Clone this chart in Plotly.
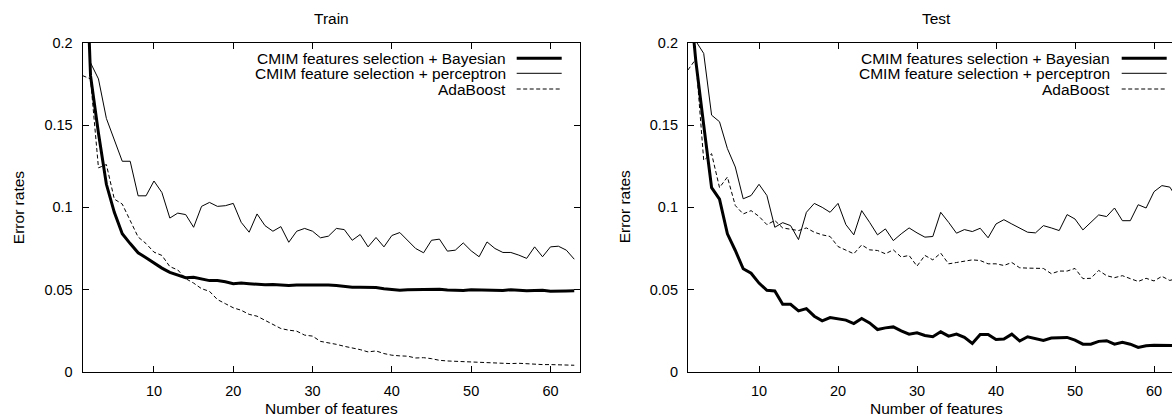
import plotly.graph_objects as go

# ---------------- data ----------------
n_features = list(range(1, 64))

train_bayes = [0.31, 0.18, 0.145, 0.114, 0.097, 0.084, 0.078, 0.0724, 0.0694, 0.0661,
               0.0631, 0.0605, 0.0587, 0.0573, 0.0575, 0.0565, 0.0555, 0.0555, 0.0548, 0.0536,
               0.054, 0.0536, 0.0532, 0.053, 0.0532, 0.0528, 0.0526, 0.0528, 0.0528, 0.053,
               0.0528, 0.0528, 0.0525, 0.052, 0.0515, 0.0515, 0.0515, 0.0513, 0.0505, 0.0502,
               0.0497, 0.0499, 0.05, 0.0498, 0.05, 0.0503, 0.0498, 0.0495, 0.0495, 0.0499,
               0.0497, 0.0495, 0.0497, 0.0495, 0.05, 0.0495, 0.0493, 0.0495, 0.0496, 0.049,
               0.0493, 0.0492, 0.0493]

train_perceptron = [None, 0.1878, 0.178, 0.154, 0.1408, 0.128, 0.128, 0.107, 0.107, 0.116,
                    0.109, 0.0935, 0.0965, 0.0956, 0.0879, 0.1006, 0.103, 0.1006, 0.101, 0.1024,
                    0.0909, 0.0849, 0.096, 0.0889, 0.0855, 0.0883, 0.0788, 0.0855, 0.0872, 0.0855,
                    0.0815, 0.0825, 0.0872, 0.0865, 0.080, 0.0835, 0.076, 0.0817, 0.076, 0.0829,
                    0.0847, 0.0797, 0.075, 0.0724, 0.080, 0.0807, 0.0734, 0.074, 0.0784, 0.0736,
                    0.070, 0.079, 0.075, 0.0726, 0.0726, 0.071, 0.069, 0.076, 0.070, 0.076,
                    0.0764, 0.074, 0.0685]

train_adaboost = [0.18, 0.178, 0.124, 0.126, 0.105, 0.102, 0.092, 0.082, 0.078, 0.0728,
                  0.0708, 0.064, 0.062, 0.0567, 0.054, 0.0506, 0.049, 0.044, 0.0415, 0.039,
                  0.0375, 0.035, 0.0339, 0.0315, 0.029, 0.0264, 0.0254, 0.0248, 0.0224, 0.0218,
                  0.0186, 0.0178, 0.0168, 0.0156, 0.0148, 0.0136, 0.0122, 0.0128, 0.0112, 0.0102,
                  0.0098, 0.0096, 0.0085, 0.0087, 0.0081, 0.0071, 0.0067, 0.0065, 0.0063, 0.0059,
                  0.0057, 0.0057, 0.0055, 0.0053, 0.0051, 0.0053, 0.0049, 0.0047, 0.0045, 0.0045,
                  0.0043, 0.0043, 0.0041]

test_bayes = [0.24, 0.189, 0.15, 0.112, 0.105, 0.0839, 0.0738, 0.0627, 0.060, 0.054,
              0.0496, 0.0492, 0.0411, 0.0411, 0.0371, 0.0385, 0.0339, 0.0311, 0.0331, 0.0323,
              0.0315, 0.0294, 0.0325, 0.0298, 0.0258, 0.0268, 0.0274, 0.025, 0.023, 0.0238,
              0.0222, 0.0214, 0.0244, 0.0218, 0.023, 0.021, 0.0173, 0.0228, 0.0228, 0.0198,
              0.02, 0.023, 0.0188, 0.0214, 0.0204, 0.0192, 0.0206, 0.0206, 0.021, 0.0194,
              0.0169, 0.0169, 0.0186, 0.019, 0.0169, 0.0181, 0.0169, 0.0149, 0.0159, 0.0163,
              0.0163, 0.0163, 0.016]

test_perceptron = [None, 0.201, 0.1935, 0.156, 0.152, 0.1357, 0.1245, 0.1052, 0.1072, 0.114,
                   0.1072, 0.0879, 0.0907, 0.0889, 0.0804, 0.097, 0.1024, 0.1, 0.097, 0.1024,
                   0.0895, 0.0833, 0.098, 0.0909, 0.0833, 0.0869, 0.0798, 0.0839, 0.0875, 0.0845,
                   0.0819, 0.0823, 0.097, 0.0909, 0.0843, 0.0865, 0.0853, 0.0873, 0.0815, 0.0899,
                   0.0925, 0.0899, 0.0873, 0.0849, 0.0845, 0.0889, 0.0875, 0.0859, 0.0956, 0.0929,
                   0.0863, 0.0909, 0.0954, 0.0944, 0.0996, 0.0919, 0.0919, 0.1016, 0.0996, 0.1095,
                   0.1132, 0.1123, 0.105]

test_adaboost = [0.1834, 0.19, 0.1286, 0.1326, 0.112, 0.1184, 0.1011, 0.096, 0.098, 0.0945,
                 0.0895, 0.092, 0.0875, 0.0869, 0.0859, 0.0875, 0.0849, 0.0833, 0.0823, 0.0762,
                 0.0742, 0.0718, 0.0772, 0.0742, 0.0738, 0.0718, 0.0742, 0.0698, 0.0708, 0.0643,
                 0.0708, 0.0681, 0.0722, 0.0657, 0.0665, 0.0673, 0.0681, 0.0677, 0.0657, 0.0657,
                 0.0647, 0.0665, 0.0633, 0.0631, 0.0629, 0.0629, 0.0597, 0.0613, 0.0613, 0.0629,
                 0.0567, 0.0569, 0.0617, 0.0585, 0.0573, 0.0585, 0.0567, 0.055, 0.0569, 0.0553,
                 0.0581, 0.0556, 0.057]

series_names = ["CMIM features selection + Bayesian",
                "CMIM feature selection + perceptron",
                "AdaBoost"]
panel_titles = ["Train", "Test"]
x_title = "Number of features"
y_title = "Error rates"
x_ticks = [10, 20, 30, 40, 50, 60]
y_ticks = [0, 0.05, 0.1, 0.15, 0.2]
y_tick_text = ["0", "0.05", "0.1", "0.15", "0.2"]

# ---------------- layout helpers ----------------
W, H = 1172, 416
FONT = "Liberation Sans, Arial, Helvetica, sans-serif"
INK = "#000000"
FS = 15.5


def px(x):
    return x / W


def py(y):
    return 1 - y / H


styles = [dict(width=3, dash="solid"),
          dict(width=1, dash="solid"),
          dict(width=1, dash="4px,2.5px")]

fig = go.Figure()

panels = [
    dict(xa="x", ya="y", data=[train_bayes, train_perceptron, train_adaboost]),
    dict(xa="x2", ya="y2", data=[test_bayes, test_perceptron, test_adaboost]),
]
for p in panels:
    for name, vals, st in zip(series_names, p["data"], styles):
        fig.add_trace(go.Scatter(x=n_features, y=vals, mode="lines", name=name,
                                 xaxis=p["xa"], yaxis=p["ya"], showlegend=False,
                                 connectgaps=False, hoverinfo="skip",
                                 line=dict(color=INK, width=st["width"], dash=st["dash"])))

# plot frames in pixels
left_l, left_r = 82.6, 580.0
right_l, right_r_full = 687.9, 1185.0
top, bottom = 42.7, 372.0
unit = 7.93
unit2 = 7.9

axis_common = dict(showgrid=False, zeroline=False, showline=True, linecolor=INK, linewidth=1,
                   ticks="inside", ticklen=6, tickwidth=1, tickcolor=INK, automargin=False,
                   tickfont=dict(family=FONT, size=14.5, color=INK))

fig.update_layout(
    template="none",
    width=W, height=H,
    margin=dict(l=0, r=0, t=0, b=0, pad=0),
    paper_bgcolor="white", plot_bgcolor="white",
    font=dict(family=FONT, size=FS, color=INK),
    hovermode=False,
    xaxis=dict(domain=[px(left_l), px(left_r)], range=[1, 1 + (left_r - left_l) / unit],
               tickvals=x_ticks, anchor="y", mirror="ticks", ticklabelstandoff=6, **axis_common),
    yaxis=dict(domain=[py(bottom), py(top)], range=[0, 0.2], tickvals=y_ticks,
               ticktext=y_tick_text, anchor="x", mirror="ticks", ticklabelstandoff=6,
               **axis_common),
    xaxis2=dict(domain=[px(right_l), 1.0], range=[1, 1 + (W - right_l) / unit2],
                tickvals=x_ticks, anchor="y2", mirror="ticks", ticklabelstandoff=6,
                **axis_common),
    yaxis2=dict(domain=[py(bottom), py(top)], range=[0, 0.2], tickvals=y_ticks,
                ticktext=y_tick_text, anchor="x2", mirror=False, ticklabelstandoff=6,
                **axis_common),
)

annotations = []
shapes = []
centers = [(left_l + left_r) / 2, (right_l + right_r_full) / 2]
ylabel_x = [18.8, 624.0]
legend_text_right = [507.7, 1112.3]
legend_line = [(516.7, 561.7), (1121.7, 1166.7)]
legend_rows = [58.3, 73.3, 89.0]

for i in range(2):
    annotations.append(dict(text=panel_titles[i], x=px(centers[i]), y=py(19), xref="paper",
                            yref="paper", xanchor="center", yanchor="middle", showarrow=False,
                            font=dict(family=FONT, size=FS, color=INK)))
    annotations.append(dict(text=x_title, x=px(centers[i]), y=py(408), xref="paper",
                            yref="paper", xanchor="center", yanchor="middle", showarrow=False,
                            font=dict(family=FONT, size=FS, color=INK)))
    annotations.append(dict(text=y_title, x=px(ylabel_x[i]), y=py((top + bottom) / 2),
                            xref="paper", yref="paper", xanchor="center", yanchor="middle",
                            textangle=-90, showarrow=False,
                            font=dict(family=FONT, size=FS, color=INK)))
    for name, st, ry in zip(series_names, styles, legend_rows):
        annotations.append(dict(text=name, x=px(legend_text_right[i]), y=py(ry), xref="paper",
                                yref="paper", xanchor="right", yanchor="middle",
                                showarrow=False, font=dict(family=FONT, size=FS, color=INK)))
        x0, x1 = legend_line[i]
        shapes.append(dict(type="line", xref="paper", yref="paper", x0=px(x0), x1=px(x1),
                           y0=py(ry), y1=py(ry),
                           line=dict(color=INK, width=st["width"], dash=st["dash"])))

fig.update_layout(annotations=annotations, shapes=shapes)

fig.write_html("out.html",
               config={"displayModeBar": False, "staticPlot": True},
               post_script="document.body.style.margin='0';document.body.style.padding='0';"
                           "document.body.style.overflow='hidden';")
